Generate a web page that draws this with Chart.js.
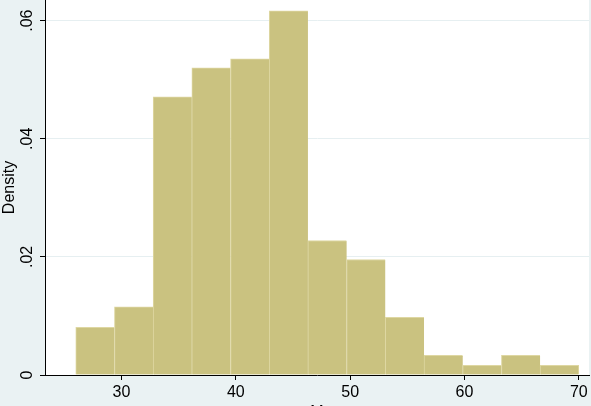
<!DOCTYPE html>
<html>
<head>
<meta charset="utf-8">
<script src="https://cdn.jsdelivr.net/npm/chart.js@4/dist/chart.umd.min.js"></script>
<style>
  html, body { margin: 0; padding: 0; background: #eaf2f3; overflow: hidden; }
  #wrap { width: 591px; height: 406px; position: relative; }
</style>
</head>
<body>
<div id="wrap"><canvas id="c" width="591" height="406"></canvas></div>
<script>
// Bin midpoints (bins of width 44/13 from 26 to 70)
const binCenters = [27.6923, 31.0769, 34.4615, 37.8462, 41.2308, 44.6154, 48.0000,
                    51.3846, 54.7692, 58.1538, 61.5385, 64.9231, 68.3077];
// Density values
const densities = [0.00806, 0.01155, 0.04712, 0.05202, 0.05354, 0.06166, 0.02277,
                   0.01956, 0.00976, 0.00333, 0.00164, 0.00333, 0.00164];
const xTicks = [30, 40, 50, 60, 70];
const yTicks = [0, 0.02, 0.04, 0.06];
const yTickLabels = ['0', '.02', '.04', '.06'];
const xTitle = 'M';
const yTitle = 'Density';

const FONT = '"Liberation Sans", Arial, sans-serif';

const bgPlugin = {
  id: 'bg',
  beforeDraw(chart) {
    const { ctx, chartArea: a } = chart;
    ctx.save();
    ctx.fillStyle = '#eaf2f3';
    ctx.fillRect(0, 0, chart.width, chart.height);
    ctx.fillStyle = '#ffffff';
    ctx.fillRect(a.left, a.top, a.right - a.left, a.bottom - a.top);
    ctx.restore();
  },
  afterDraw(chart) {
    const { ctx, chartArea: a } = chart;
    const ys = chart.scales.y;
    ctx.save();
    ctx.fillStyle = '#000';
    ctx.font = '16px ' + FONT;
    // rotated y tick labels
    yTicks.forEach((v, i) => {
      const py = ys.getPixelForValue(v);
      ctx.save();
      ctx.translate(28, py);
      ctx.rotate(-Math.PI / 2);
      ctx.textAlign = 'center';
      ctx.textBaseline = 'middle';
      ctx.fillText(yTickLabels[i], 0, 0);
      ctx.restore();
    });
    // y title
    ctx.save();
    ctx.translate(10, (a.top + a.bottom) / 2);
    ctx.rotate(-Math.PI / 2);
    ctx.textAlign = 'center';
    ctx.textBaseline = 'middle';
    ctx.fillText(yTitle, 0, 0);
    ctx.restore();
    // x title (mostly cut off at bottom)
    ctx.textAlign = 'center';
    ctx.textBaseline = 'top';
    ctx.fillText(xTitle, (a.left + a.right) / 2, 405);
    ctx.restore();
  }
};

new Chart(document.getElementById('c'), {
  type: 'bar',
  data: {
    datasets: [{
      data: binCenters.map((x, i) => ({ x: x, y: densities[i] })),
      backgroundColor: '#cac280',
      borderColor: '#ded7a2',
      borderWidth: (ctx) => ({ top: 1, left: 1, right: ctx.dataIndex === binCenters.length - 1 ? 1 : 0, bottom: 0 }),
      borderSkipped: false,
      barPercentage: 1,
      categoryPercentage: 1
    }]
  },
  options: {
    responsive: false,
    animation: false,
    events: [],
    layout: { padding: { top: 0, right: 2, left: 0, bottom: 0 } },
    plugins: { legend: { display: false }, tooltip: { enabled: false } },
    scales: {
      x: {
        type: 'linear',
        offset: false,
        min: 23.31,
        max: 70.89,
        afterBuildTicks(scale) { scale.ticks = xTicks.map(v => ({ value: v })); },
        afterFit(scale) { scale.height = 31; },
        ticks: { color: '#000', font: { family: FONT, size: 16 }, padding: 3, maxRotation: 0, autoSkip: false },
        grid: { offset: false, drawOnChartArea: false, drawTicks: true, tickLength: 5, color: '#000', tickColor: '#000' },
        border: { display: true, color: '#000', width: 1 }
      },
      y: {
        type: 'linear',
        min: 0,
        max: 0.0635,
        afterBuildTicks(scale) { scale.ticks = yTicks.map(v => ({ value: v })); },
        afterFit(scale) { scale.width = 45; },
        ticks: { display: false },
        grid: { drawOnChartArea: true, drawTicks: true, tickLength: 5, color: '#e6eff1', tickColor: '#000', lineWidth: 1 },
        border: { display: true, color: '#000', width: 1 }
      }
    }
  },
  plugins: [bgPlugin]
});
</script>
</body>
</html>
